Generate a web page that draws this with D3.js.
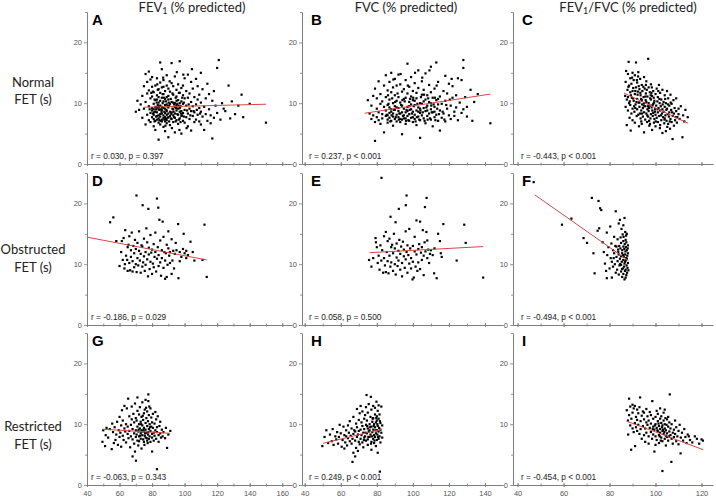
<!DOCTYPE html>
<html>
<head>
<meta charset="utf-8">
<script src="https://cdn.jsdelivr.net/npm/d3@7"></script>
<style>
  body { margin: 0; background: #fff; }
  svg { display: block; font-family: 'Liberation Sans', Arial, sans-serif; }
</style>
</head>
<body>
<svg id="chart" width="716" height="500"></svg>
<script>
// column / row labels
const colTitles = [['FEV', '1', ' (% predicted)'], ['FVC (% predicted)'], ['FEV', '1', '/FVC (% predicted)']];
const rowLabels = ['Normal', 'Obstructed', 'Restricted'];
const rowUnit = 'FET (s)';
const panelLetters = ['A', 'B', 'C', 'D', 'E', 'F', 'G', 'H', 'I'];
const statsText = [
  'r = 0.030, p = 0.397', 'r = 0.237, p < 0.001', 'r = -0.443, p < 0.001',
  'r = -0.186, p = 0.029', 'r = 0.058, p = 0.500', 'r = -0.494, p < 0.001',
  'r = -0.063, p = 0.343', 'r = 0.249, p < 0.001', 'r = -0.454, p < 0.001'
];

// tick labels
const xTicksFev1 = [40, 60, 80, 100, 120, 140, 160];
const xTicksFvc = [40, 60, 80, 100, 120, 140];
const xTicksRatio = [40, 60, 80, 100, 120];
const yTicks = [0, 10, 20];
const yMinorTicks = [5, 15, 25];

// points: [% predicted, FET seconds]
const ptsA = [
  [70,8.6],[71,10.4],[72,8.9],[73,9.8],[74,11.2],[74,7.6],[75,12.8],[75,9.1],[76,14.8],[76,6.5],[76,10.2],[77,8.1],[77,13.5],[77,11.6],[78,7.2],[78,9.5],[78,15.2],[78,12.1],[79,8.4],[79,10.8],[79,6.9],[79,13.9],[80,7.7],[80,9.2],[80,11.1],[80,12.7],[80,8.8],[80,14.3],
  [81,6.2],[81,8.1],[81,9.9],[81,11.8],[81,7.4],[82,10.5],[82,8.6],[82,12.9],[82,7.1],[82,5.6],[83,9.3],[83,11.3],[83,7.9],[83,14.1],[83,8.5],[84,6.8],[84,10.1],[84,12.3],[84,9.0],[84,4.0],[84,7.5],[85,8.2],[85,11.7],[85,13.4],[85,9.6],[85,6.5],[85,7.8],[86,10.9],[86,8.9],[86,12.6],[86,7.3],[86,15.6],[86,9.4],[87,8.0],[87,10.3],[87,6.1],[87,11.5],[87,7.6],[87,13.8],[88,9.1],[88,7.0],[88,12.0],[88,8.4],[88,10.7],[88,5.4],[89,8.7],[89,11.0],[89,7.2],[89,9.8],[89,14.6],[89,6.7],[90,8.3],[90,10.6],[90,12.4],[90,7.7],[90,9.3],[90,4.4],
  [81,9.0],[82,9.4],[83,10.6],[84,8.0],[85,10.4],[86,8.3],[87,9.2],[88,9.7],[89,8.1],[90,11.2],[83,7.3],[86,7.0],[88,7.7],[84,11.0],[87,12.7],[85,16.7],[89,12.9],
  [91,7.9],[91,9.9],[91,11.9],[91,6.4],[92,8.5],[92,10.2],[92,13.3],[92,7.4],[92,16.6],[93,9.0],[93,11.4],[93,6.9],[93,8.0],[93,12.8],[94,7.6],[94,10.0],[94,9.4],[94,14.4],[94,5.2],[95,8.8],[95,11.1],[95,7.2],[95,12.2],[95,9.7],[96,8.1],[96,10.5],[96,6.6],[96,13.1],[97,9.2],[97,7.5],[97,11.7],[97,8.6],[97,16.9],[98,10.3],[98,7.9],[98,12.5],[98,5.0],[99,8.4],[99,9.9],[99,11.3],[99,7.1],[100,8.9],[100,10.8],[100,14.1],[100,6.8],
  [91,8.6],[93,10.1],[95,10.4],[97,10.0],[99,12.9],[94,8.3],[96,9.1],[98,8.7],
  [101,7.7],[101,9.6],[101,12.0],[102,8.3],[102,10.9],[102,14.7],[102,6.2],[103,9.1],[103,7.4],[103,11.6],[104,8.7],[104,10.2],[104,13.5],[104,5.5],[105,7.9],[105,9.5],[105,12.4],[106,8.5],[106,11.0],[106,6.9],[107,9.8],[107,7.3],[107,14.0],[108,8.1],[108,10.6],[108,12.8],[109,9.2],[109,7.0],[109,11.4],[110,8.6],[110,10.1],[110,6.5],[110,15.0],
  [111,7.8],[111,12.3],[112,9.4],[112,5.6],[113,8.2],[113,10.8],[114,13.2],[114,7.1],[115,9.0],[115,11.5],[116,8.0],[116,6.7],[117,10.4],[117,4.2],[118,7.6],[118,12.0],[119,9.6],[120,15.8],[120,8.4],[121,17.1],[122,7.3],[123,10.0],[124,9.1],[125,8.7],
  [127,12.9],[128,7.5],[129,10.3],[131,8.2],[133,9.6],[135,11.4],[136,7.7],[140,9.9],[150,6.8],
  [80.5,8.3],[81.5,10.6],[82.5,7.8],[83.5,9.7],[84.5,8.9],[85.5,7.1],[86.5,10.0],[87.5,8.6],[88.5,7.4],[89.5,9.5],[90.5,7.0],[91.5,10.7],[92.5,9.1],[93.5,7.7],[94.5,10.9],[95.5,8.2],[96.5,7.3],[97.5,9.5],[98.5,8.0],[99.5,10.1],
  [80.5,11.9],[81.5,7.0],[82.5,9.0],[83.5,12.2],[84.5,7.2],[85.5,9.0],[86.5,11.5],[87.5,7.3],[88.5,10.3],[89.5,7.6],[90.5,9.6],[91.5,7.5],[92.5,11.6],[93.5,9.8],[94.5,7.0],[95.5,9.9],[96.5,11.7],[97.5,6.9],[98.5,10.9],[99.5,7.8],
  [81.2,8.5],[82.8,10.1],[84.2,9.4],[85.8,8.6],[87.2,10.9],[88.8,8.9],[90.2,10.1],[91.8,8.2],[93.2,8.6],[94.8,9.2],[96.2,9.6],[97.8,8.3],[101.5,8.8],[102.5,9.8],[103.5,8.0],[105.5,8.7],[107.5,8.9],[109.5,8.3],[78.5,9.0],[79.5,11.7],
  [83.2,13.1],[86.8,14.2],[90.8,13.6],[95.2,15.1],[99.2,14.7],[104.5,15.6],[88.2,6.3],[92.2,5.9],[96.8,5.6],[101.2,5.9]
];
const ptsB = [
  [75,10.5],[76,8.3],[77,7.4],[77,9.6],[78,11.2],[78,8.0],[79,3.8],[79,6.9],[79,12.4],[80,7.7],[80,9.1],[80,10.8],[81,8.5],[81,7.2],[81,13.6],[82,9.9],[82,6.6],[82,11.5],[83,8.2],[83,7.5],[83,10.3],[84,9.4],[84,12.9],[84,5.2],[85,7.9],[85,8.8],[85,11.0],[85,14.6],
  [86,7.3],[86,9.7],[86,12.1],[86,6.8],[87,8.4],[87,10.6],[87,13.5],[87,7.6],[88,9.0],[88,11.8],[88,7.1],[88,8.6],[88,15.0],[89,10.0],[89,7.8],[89,12.6],[89,6.3],[90,8.9],[90,9.5],[90,11.3],[90,7.4],[90,14.0],[91,8.1],[91,10.4],[91,7.0],[91,12.9],[92,9.2],[92,7.7],[92,11.0],[92,8.7],[93,6.9],[93,10.1],[93,13.1],[93,8.3],[94,9.6],[94,7.3],[94,11.9],[94,4.9],[95,8.0],[95,10.7],[95,12.3],[95,7.5],[95,9.1],
  [86,8.0],[87,9.3],[89,8.3],[91,9.3],[93,7.4],[94,8.5],[92,14.7],
  [96,8.5],[96,10.9],[96,6.6],[96,13.8],[97,9.4],[97,7.9],[97,11.6],[97,16.5],[98,8.2],[98,10.2],[98,7.1],[98,12.7],[99,9.0],[99,7.6],[99,11.1],[99,14.3],[100,8.6],[100,10.5],[100,6.9],[100,12.0],[101,9.7],[101,7.4],[101,13.3],[101,8.1],[102,10.8],[102,8.8],[102,6.4],[102,11.7],[103,9.3],[103,7.8],[103,12.5],[103,15.4],[104,8.4],[104,10.0],[104,4.3],[104,7.2],[105,9.9],[105,11.4],[105,8.0],[105,13.6],
  [97,8.7],[99,9.8],[101,10.4],[103,8.6],[96,7.5],[98,9.5],[100,7.7],[104,9.1],
  [106,7.5],[106,9.2],[106,12.2],[107,8.7],[107,10.6],[107,14.9],[107,6.7],[108,9.6],[108,7.9],[108,11.3],[109,8.3],[109,10.2],[109,13.0],[110,7.3],[110,9.0],[110,11.8],[110,16.0],[111,8.5],[111,10.9],[111,6.2],[112,9.4],[112,12.4],[112,7.7],[113,8.1],[113,10.5],[113,16.7],[114,9.8],[114,7.1],[114,13.5],[115,8.8],[115,11.1],[115,5.5],
  [106,10.3],[108,8.8],[110,10.0],[112,8.6],[114,10.7],
  [116,7.6],[116,9.9],[117,12.0],[117,8.3],[118,10.4],[118,7.0],[118,14.5],[119,9.1],[119,11.6],[120,8.0],[120,13.2],[121,9.6],[121,7.4],[122,10.9],[122,12.8],[123,8.6],[123,7.9],[124,11.3],[124,9.3],[125,7.2],[125,14.1],[126,10.1],[127,8.4],[127,13.8],[128,17.1],[128,15.8],[128,9.0],[129,11.0],[130,9.4],[130,7.8],
  [132,12.2],[133,7.1],[134,10.2],[136,11.5],[143,6.7],
  [85.5,8.1],[86.5,9.9],[87.5,7.0],[88.5,10.8],[89.5,8.9],[90.5,7.7],[91.5,11.6],[92.5,8.3],[93.5,9.7],[94.5,7.9],[95.5,10.3],[96.5,8.9],[97.5,7.2],[98.5,10.7],[99.5,8.3],[100.5,9.5],[101.5,7.0],[102.5,9.9],[103.5,7.3],[104.5,11.0],[105.5,8.5],[106.5,7.1],[107.5,9.3],[108.5,10.8],[109.5,7.5],[110.5,8.5],[111.5,9.8],[112.5,7.2],[113.5,9.1],[114.5,8.2],
  [86.2,11.3],[88.2,8.0],[90.2,10.2],[92.2,7.3],[94.2,10.5],[96.2,7.1],[98.2,8.9],[100.2,10.9],[102.2,7.7],[104.2,8.8],[106.2,11.4],[108.2,7.3],[110.2,9.6],[112.2,10.9],[116.5,8.6],[118.5,9.7],[120.5,10.6],[117.5,7.3],
  [89.2,13.9],[93.2,14.8],[97.2,12.9],[101.2,15.0],[105.2,14.2],[109.2,15.4],[113.2,12.9],[121.5,14.0]
];
const ptsC = [
  [86.8,11.2],[87,13.5],[87,9.4],[87.2,15.3],[87.5,10.6],[87.5,6.4],[87.8,12.2],[88,14.8],[88,8.8],[88,11.0],[88.3,16.8],[88.5,10.0],[88.5,12.9],[88.7,7.6],[89,14.1],[89,9.7],[89,11.8],[89.2,5.5],[89.5,13.2],[89.5,8.3],[89.7,10.9],[90,15.0],[90,12.0],[90,9.1],[90,7.2],
  [90.5,13.8],[90.5,10.4],[90.8,8.6],[91,11.5],[91,14.6],[91,6.8],[91.3,9.8],[91.5,12.6],[91.5,16.7],[91.8,7.9],[92,10.7],[92,13.4],[92,9.0],[92.3,11.9],[92.5,8.1],[92.5,15.1],[92.8,6.2],[93,12.3],[93,10.1],[93,9.4],[93.3,14.0],[93.5,7.5],[93.5,11.3],[93.8,8.8],[94,13.0],[94,10.5],[94,6.6],[94.3,12.0],[94.5,9.2],[94.5,7.8],[94.8,11.0],[95,14.3],[95,8.5],[95,10.0],[95,5.2],
  [90.2,10.8],[91.2,12.0],[92.2,11.4],[93.2,8.3],[94.2,9.8],[90.7,9.5],[91.7,10.2],[92.7,12.8],[93.7,10.7],[94.7,12.7],
  [95.3,12.4],[95.5,9.5],[95.5,7.3],[95.8,11.6],[96,8.3],[96,10.2],[96,13.6],[96.3,6.9],[96.5,9.0],[96.5,11.1],[96.8,17.3],[96.8,7.8],[97,12.6],[97,10.0],[97,8.7],[97.3,6.3],[97.5,9.6],[97.5,11.8],[97.8,7.5],[98,10.6],[98,8.2],[98,13.1],[98.3,9.3],[98.5,5.6],[98.5,11.2],[98.8,7.9],[99,9.9],[99,8.4],[99,12.0],[99.3,6.8],[99.5,10.4],[99.5,7.4],[99.8,9.0],[100,11.5],[100,8.1],[100,6.2],
  [95.7,10.5],[96.7,9.5],[97.7,10.8],[98.7,9.7],[99.7,8.6],[96.2,12.2],[97.2,7.1],[98.2,11.7],[99.2,10.9],
  [100.3,9.6],[100.5,7.6],[100.5,12.4],[100.8,10.3],[101,8.5],[101,6.9],[101,11.0],[101.3,9.2],[101.5,7.9],[101.5,13.0],[101.8,10.0],[102,8.8],[102,6.4],[102,11.7],[102.3,9.5],[102.5,7.2],[102.5,10.6],[102.8,8.3],[103,12.2],[103,9.0],[103,5.1],[103.3,7.7],[103.5,10.2],[103.5,8.6],[103.8,6.7],[104,9.4],[104,11.3],[104,7.5],[104.3,8.0],[104.5,10.0],[104.5,5.4],[104.8,7.1],[105,9.1],[105,12.0],
  [105.3,8.2],[105.5,6.6],[105.5,10.8],[105.8,7.8],[106,9.6],[106,8.5],[106.3,5.8],[106.5,7.4],[106.5,11.4],[106.8,8.9],[107,6.9],[107,9.9],[107.4,4.1],[107.5,7.9],[107.8,10.5],[108,8.3],[108,6.3],[108.3,9.2],[108.5,7.2],[109,8.7],[109,10.8],[109.3,6.8],[109.5,7.7],[110,9.1],[110,8.2],[110.5,7.4],[111,9.5],[111.7,4.4],[112,8.0],[112.5,7.0],[113,8.9],[114,7.7],
  [88.2,12.7],[89.3,11.3],[90.3,12.5],[91.2,9.2],[91.9,13.8],[92.6,10.1],[93.4,11.7],[94.1,8.3],[94.9,9.6],[95.6,11.1],[96.4,8.0],[97.1,9.2],[97.9,11.3],[98.6,8.8],[99.4,10.1],[100.1,7.0],[100.9,9.0],[101.7,10.7],[102.4,8.0],[103.1,9.8],[103.9,7.3],[104.7,8.9],[105.4,9.8],[106.2,7.0],[107.2,8.5],[108.8,7.7],[89.8,14.2],[92.4,14.4],[95.8,13.0],[98.4,12.6],[101.2,12.0],[104.2,10.7],[106.6,10.1],[88.8,10.3],[93.8,7.0],[97.6,6.6],[101.9,5.9],[105.1,6.1]
];
const ptsD = [
  [54.2,16.9],[56.2,17.7],[58,13.8],[60,9.7],[61,12.0],[61.4,13.8],[62,10.7],[62.5,14.3],[63,9.3],[63.3,10.0],[63.5,15.6],[64,11.4],[64.7,10.7],[65,12.8],[65,8.9],[65.5,13.2],[66,10.2],[66,14.6],[66.5,9.0],[67,11.2],[67,12.3],[67.5,15.2],[68,8.8],[68,10.5],[68.5,13.0],[69,11.8],[69,9.5],[69.5,14.0],[70,12.5],[70,10.0],[70.4,21.3],[70.5,8.7],[71,11.0],[71,13.5],[71.5,9.8],[72,12.2],[72,15.4],[72.5,10.6],[73,8.6],[73,11.7],[73.5,13.1],[74,9.6],[74,12.9],[74.2,19.7],[74.5,10.3],[75,14.2],[75,11.3],[75.5,8.9],[76,12.0],[76,9.9],[76.5,15.9],[77,10.8],[77,13.6],[77.7,19.1],[77.5,8.0],[78,11.6],[78,12.7],[78.5,9.2],[79,10.4],[79,14.8],[79.5,11.9],[80,8.4],[80,12.4],[80.5,10.1],[81,13.3],[81,9.5],[81.5,11.2],[82,15.2],[82,12.0],[82.5,8.8],[83,20.8],[83,10.9],[83.5,12.8],[83.8,19.3],[84,9.7],[84,11.5],[84.5,17.3],[85,13.9],[85,10.3],[85.5,8.1],[86,12.3],[86,11.0],[86.5,17.0],[87,9.4],[87,14.5],[87.5,12.0],[88,7.6],[88,10.6],[88.5,11.8],[89,13.2],[89,7.9],[89.5,9.9],[90,12.6],[90,15.4],[90.5,11.4],[91,10.2],[91,12.0],[92,8.4],[92,14.1],[92.5,10.6],[93,12.2],[93.5,9.3],[94,11.7],[94.5,13.5],[95,12.3],[96,16.6],[96.2,7.7],[97,10.5],[97,12.0],[98,11.2],[99,12.5],[99.4,15.0],[100,11.8],[101,11.0],[101,12.2],[102,11.5],[103.6,13.7],[105,12.0],[106,10.6],[111,10.7],[112.2,16.5],[113.6,7.9]
];
const ptsE = [
  [75.7,10.7],[77,9.6],[78,11.0],[79.3,14.3],[79.5,13.6],[80,12.8],[80.5,10.2],[81,11.4],[81.5,9.1],[82,13.1],[82.6,24.2],[82.5,10.6],[83,12.3],[83.5,8.6],[84,14.6],[84,11.0],[84.5,9.8],[85,15.3],[85,8.7],[85.5,12.0],[86,10.5],[86,13.8],[86.5,8.5],[87,11.4],[87,14.2],[87.6,17.8],[87.5,9.6],[88,12.8],[88,10.3],[88.5,13.2],[89,8.9],[89,11.8],[89.5,15.0],[90,10.0],[90.4,16.9],[90,12.6],[90.5,8.3],[91,11.1],[91,13.4],[91.5,9.7],[92,12.2],[92.2,19.1],[92,10.6],[92.5,14.0],[93,9.1],[93,11.7],[93.5,12.9],[94,10.2],[94,8.0],[94.5,13.7],[95,11.3],[95,12.4],[95.5,9.4],[96,15.4],[96.1,19.7],[96.5,21.3],[96,10.8],[96.5,12.0],[97,8.6],[97,13.1],[97.5,11.5],[98,10.1],[98,15.8],[98.5,12.6],[99,9.3],[99,11.0],[99.8,7.5],[100,13.0],[100,10.4],[100.5,7.8],[101,12.1],[101,14.5],[101.5,9.6],[102,11.6],[102,17.2],[102.5,8.9],[103,12.5],[103,10.3],[103.5,13.3],[104,9.2],[104,17.0],[104.5,11.9],[105,12.8],[105,10.7],[105.5,15.6],[106,11.4],[106,8.2],[106.7,19.4],[106.5,13.6],[107,12.1],[107.6,20.9],[107.5,15.3],[108,11.0],[108,13.9],[108.5,12.4],[109,10.2],[109.5,11.7],[110,12.3],[111,11.5],[111.8,8.5],[112,12.6],[113.2,7.7],[114,15.0],[115,13.8],[115.5,11.8],[116,11.2],[116.9,16.6],[124.3,10.6],[128.5,16.5],[129.3,13.5],[139,7.8]
];
const ptsF = [
  [47,23.5],[59.3,16.5],[63.4,17.5],[68.7,14.3],[70.2,13.5],[72.3,20.9],[73,11.8],[73.5,8.5],[74.8,15.5],[75.2,20.4],[75.5,15.9],[75.9,19.2],[76.4,18.9],[77,13.6],[77.5,12.0],[78,10.1],[78.5,8.9],[78.8,15.2],[78.8,7.7],[79,11.5],[79.5,12.8],[80,9.3],[80.3,16.2],[80.5,11.0],[80.8,13.4],[81,10.4],[81,7.8],[81.5,12.3],[81.5,9.6],[82,11.8],[82,14.5],[82.3,10.0],[82.7,18.7],[82.7,8.6],[83,12.9],[83,11.2],[83.3,9.1],[83.5,14.1],[83.5,10.5],[83.8,12.0],[84,16.7],[84,8.3],[84,11.6],[84.2,13.0],[84.3,9.8],[84.5,17.3],[84.5,10.9],[84.7,12.6],[84.8,14.4],[85,8.8],[85,11.3],[85,13.5],[85,9.9],[85.2,15.8],[85.3,10.4],[85.5,12.3],[85.5,7.9],[85.5,11.8],[85.7,14.9],[85.8,9.3],[86,12.9],[86,10.7],[86,13.8],[86,8.4],[86,16.4],[86.2,11.2],[86.3,9.6],[86.4,12.5],[86.5,10.1],[86.5,17.6],[86.5,7.5],[86.6,13.3],[86.7,8.9],[86.8,11.6],[86.8,15.3],[86.9,12.1],[87,9.1],[87,10.6],[87,14.0],[87,7.8],[87.1,12.8],[87.2,11.0],[87.3,8.2],[87.3,13.6],[87.4,9.8],[87.5,10.9],[87.5,12.3],[87.5,15.0],[87.6,8.6],[87.7,11.4],[87.8,9.4],[88,10.2],[88,13.1],[88,11.8],[88.2,9.0],[84.6,10.0],[85.9,11.5],[83.7,12.4],[82.5,13.0],[81.8,11.0],[86.1,14.5],[85.4,9.2],[86.7,10.4],[87.9,12.6],[87.2,14.7]
];
const ptsG = [
  [49.5,7.1],[50,9.0],[51.1,6.4],[51.5,8.2],[52,9.4],[53,7.8],[54,9.2],[55.2,5.9],[55.5,10.1],[56,8.7],[56.5,6.9],[57,9.5],[57.5,7.4],[58,8.3],[58.5,10.4],[59,6.6],[59.5,9.0],[60,7.9],[60,11.2],
  [60.5,8.6],[61,9.8],[61,6.3],[61.5,12.3],[62,8.1],[62,10.6],[62.5,7.4],[63,9.3],[63,13.0],[63.5,8.8],[64,7.0],[64,10.0],[64.5,12.6],[65,8.4],[65,9.6],[65.3,14.2],[65.5,7.7],[66,11.3],[66,8.9],[66.5,6.2],[67,9.9],[67,8.0],[67.5,10.8],[67.5,12.9],[68,4.7],[68,7.5],[68,9.2],[68.5,11.7],[69,8.5],[69,6.8],[69,10.3],[69.5,5.5],[69.5,13.4],[70,7.9],[70,9.0],[70.1,4.0],[70,11.0],[70.5,8.3],
  [70.5,10.6],[71,14.4],[71,7.3],[71,9.6],[71,12.2],[71.5,8.8],[71.5,6.5],[72,10.0],[72,8.0],[72,11.6],[72,7.2],[72.5,9.3],[72.5,12.8],[73,8.5],[73,10.4],[73,7.6],[73.5,9.0],[73.5,11.2],[73.5,6.0],[74,8.2],[74,9.8],[74,13.6],[74.5,7.5],[74.5,10.7],[75,8.8],[75,11.8],[75,7.1],[75,9.4],[75.5,12.4],[75.5,8.1],[76,10.2],[76,7.8],[76,9.1],[76,14.0],[76.5,8.6],[76.5,11.0],[77,9.7],[77,7.3],[77,12.1],[77.5,8.3],[77.5,10.5],[77.7,14.9],[77.7,13.8],[78,9.2],[78,7.6],[78,11.5],[78.5,8.0],[78.5,10.0],[79,8.9],[79,12.6],[79,7.1],[79.5,9.6],[79.5,11.1],[80,8.4],[80,5.5],[80,10.3],[80,7.8],
  [71.7,9.1],[72.7,8.1],[73.7,8.8],[74.7,9.1],[75.7,8.5],[76.7,7.7],[77.7,8.7],[78.7,9.5],[73.3,10.0],[74.3,11.4],[76.3,12.7],[75.3,6.6],[77.3,6.9],[78.3,12.9],
  [80.5,9.4],[80.5,11.7],[81,8.6],[81,7.3],[81.5,10.1],[81.5,8.1],[82,9.0],[82,12.0],[82.5,7.6],[82.5,10.8],[83,8.7],[83,2.6],[83,9.5],[83.5,11.3],[84,8.2],[84,7.1],[84.5,9.7],[85,8.5],[85,10.4],[85.5,7.8],[86,9.1],[86.5,8.0],[87,8.7],[88,7.7],[88.5,9.4],[89.2,6.1],[90,8.3],[91.2,8.9]
];
const ptsH = [
  [49.8,6.4],[51,7.9],[52,9.0],[53,6.9],[54,8.3],[55,7.2],[55.5,9.2],[56,6.6],[57,8.0],[57.5,7.5],[58,8.7],[58.5,6.8],[59,7.9],[59.4,9.9],[60,8.5],[60.5,6.3],[61,7.4],[61.5,9.6],[62,8.2],[62,6.0],
  [62.5,7.0],[63,9.0],[63,8.0],[63.5,6.5],[64,7.7],[64,9.8],[64.5,8.6],[65,7.2],[65,10.5],[65.5,8.1],[66,6.8],[66,9.3],[66.5,3.8],[66.5,7.6],[67,8.4],[67,11.2],[67,5.3],[67.5,9.0],[68,7.3],[68,4.7],[68,8.8],[68.5,10.1],[68.5,6.1],[69,7.9],[69,12.5],[69,9.5],[69.5,8.3],[69.5,5.6],[70,7.1],[70,10.7],[70,8.9],[70.5,11.8],[70.5,6.7],[71,9.1],[71,7.6],[71,13.0],[71.5,8.2],[71.5,10.3],[72,7.0],[72,9.7],[72,12.1],
  [72.5,8.6],[72.5,6.2],[73,10.9],[73,7.8],[73,9.2],[73.5,11.5],[73.5,8.0],[74,9.9],[74,7.3],[74,12.8],[74.3,14.8],[74.5,8.5],[74.5,10.6],[75,7.5],[75,9.3],[75,11.9],[75,6.6],[75.5,8.8],[75.5,13.3],[76,10.0],[76,7.9],[76,9.0],[76.7,14.5],[76.5,11.2],[76.5,8.3],[77,7.1],[77,9.6],[77,12.4],[77,5.8],[77.5,8.7],[77.5,10.4],[78,7.6],[78,9.1],[78,11.0],[78,13.0],[78.5,8.2],[78.5,10.0],[78.5,6.9],[79,9.5],[79,7.9],[79,11.6],[79,12.7],[79.5,8.5],[79.5,10.3],[79.8,13.7],[79.5,6.4],[80,9.0],[80,7.4],[80,11.3],[80,10.6],[80.3,8.3],[80.5,9.7],[80.5,12.2],[80.5,5.3],[81,8.8],[81,10.9],[81,7.6],[81,13.1],[81.3,9.4],[81.5,8.0],[81.5,11.6],[81.7,2.2],[82,9.1],[82,10.2],[82,7.0],[82.5,8.6],[82.5,12.9],[83,9.8],[83,7.8],
  [76.3,9.5],[77.3,8.0],[78.3,9.7],[79.3,9.0],[80.3,10.0],[75.3,7.9],[74.7,9.7],[73.7,8.6],[77.7,10.9],[78.7,7.3],[79.7,11.0],[80.7,7.9],[81.7,10.5],[76.8,6.8],[72.8,7.4]
];
const ptsI = [
  [87.5,12.3],[88,10.6],[88.1,8.3],[88.5,14.2],[88.5,11.5],[89,9.8],[89,12.9],[89.4,5.8],[89.5,10.9],[90,13.2],[90,9.3],[90,11.9],[90.5,8.7],[90.5,12.6],[91,10.2],[91,13.0],[91.1,6.4],[91.5,9.5],[91.5,11.2],[92,12.4],[92,8.9],[92,10.7],
  [92.5,11.8],[92.5,9.9],[93,12.8],[93,8.4],[93.3,14.4],[93.5,10.5],[93.5,9.2],[94,11.4],[94,7.6],[94.5,12.1],[94.5,9.7],[95,10.8],[95,8.2],[95,11.9],[95.5,9.3],[95.5,7.1],[96,10.3],[96,12.5],[96,8.6],[96.5,9.9],[96.5,11.3],[97,8.0],[97,10.6],[97,6.8],[97.5,9.4],[97.5,12.0],[98,8.7],[98,10.1],[98,11.5],[98.6,13.8],[98.5,7.6],[99,9.6],[99,8.3],[99,10.9],[99.5,5.5],[99.5,9.1],[100,11.2],[100,8.0],[100,10.0],[100,6.6],
  [100.5,9.4],[100.5,12.2],[100.5,7.4],[101,8.8],[101,10.5],[101,11.7],[101.5,8.2],[101.5,9.7],[101.5,6.9],[102,10.9],[102,8.6],[102,9.2],[102,12.6],[102.5,7.8],[102.5,10.2],[102.5,11.3],[103,8.9],[103,9.8],[103,2.3],[103,7.2],[103.5,10.6],[103.5,8.4],[103.5,11.9],[104,9.3],[104,7.6],[104,10.0],[104,12.4],[104.5,8.1],[104.5,9.0],[104.5,6.5],[105,10.8],[105,8.5],[105,7.9],[105.5,9.6],[105.5,11.2],[105.5,7.3],[106,8.8],[106,10.3],[106.2,14.9],[106.5,8.2],[106.5,9.3],[106.9,3.8],[107,7.6],[107,10.0],[107.5,8.6],[107.5,6.8],[108,9.1],[108,7.9],
  [100.8,9.0],[101.8,8.0],[102.8,9.5],[103.8,8.7],[104.8,9.9],[105.8,8.0],[101.3,10.1],[102.3,7.3],[103.3,9.1],[104.3,11.0],[99.7,9.8],[98.8,9.2],
  [108.5,10.6],[108.5,8.4],[109,7.2],[109,9.5],[109.5,8.0],[110,8.9],[110,6.7],[110.5,9.9],[110.9,5.2],[111,7.8],[111.5,8.6],[112,7.3],[112.5,9.2],[113,7.9],[113.5,6.9],[114,8.3],[114.5,8.0],[115,7.4],[116,7.0],[117.1,8.0],[118,7.6],[119,6.8],[120.6,7.3],[120,7.5]
];

// fitted regression lines, endpoints in data units
const fitA = [[75.2, 9.34], [150, 9.83]];
const fitB = [[73.3, 8.35], [143, 11.5]];
const fitC = [[86.3, 11.65], [114.2, 6.7]];
const fitD = [[40, 14.45], [113.6, 10.7]];
const fitE = [[76.1, 11.9], [139, 12.9]];
const fitF = [[47.5, 21.4], [88.2, 10.6]];
const fitG = [[49.9, 9.17], [91, 8.5]];
const fitH = [[50.2, 6.86], [82.6, 9.17]];
const fitI = [[87.4, 10.5], [120.8, 5.8]];

const points = [ptsA, ptsB, ptsC, ptsD, ptsE, ptsF, ptsG, ptsH, ptsI];
const fits = [fitA, fitB, fitC, fitD, fitE, fitF, fitG, fitH, fitI];
const xTickSets = [xTicksFev1, xTicksFvc, xTicksRatio];

// layout
const cols = [
  { x0: 87, x1: 292, dom: [40, 166], letterDx: 5, statDx: 4, titleX: 192 },
  { x0: 302, x1: 503, dom: [38.5, 150], letterDx: 9, statDx: 7, titleX: 406 },
  { x0: 513, x1: 713, dom: [38, 125], letterDx: 9, statDx: 8, titleX: 628 }
];
const rows = [
  { top: 12, bottom: 164, lab1: 87, lab2: 104 },
  { top: 173, bottom: 325, lab1: 254, lab2: 272 },
  { top: 333, bottom: 485, lab1: 431, lab2: 449 }
];
const axisColor = '#7a7a7a';
const labelFont = "Lato, 'Open Sans', sans-serif";

const svg = d3.select('#chart');

// column titles
colTitles.forEach((parts, i) => {
  const t = svg.append('text')
    .attr('x', cols[i].titleX)
    .attr('y', 12)
    .attr('text-anchor', 'middle')
    .style('font-family', labelFont)
    .style('font-size', '13px')
    .style('fill', '#222');
  parts.forEach((p, j) => {
    const ts = t.append('tspan').text(p);
    if (parts.length > 1 && j === 1) ts.attr('baseline-shift', '-25%').style('font-size', '9px');
  });
});

// row labels
rowLabels.forEach((lab, i) => {
  svg.append('text')
    .attr('x', 33).attr('y', rows[i].lab1)
    .attr('text-anchor', 'middle')
    .style('font-family', labelFont).style('font-size', '13px').style('fill', '#222')
    .text(lab);
  svg.append('text')
    .attr('x', 33).attr('y', rows[i].lab2)
    .attr('text-anchor', 'middle')
    .style('font-family', labelFont).style('font-size', '13px').style('fill', '#222')
    .text(rowUnit);
});

points.forEach((pts, i) => {
  const ci = i % 3;
  const ri = Math.floor(i / 3);
  const c = cols[ci];
  const r = rows[ri];

  const x = d3.scaleLinear().domain(c.dom).range([c.x0, c.x1]);
  const y = d3.scaleLinear().domain([0, 25]).range([r.bottom, r.top]);

  const g = svg.append('g').attr('class', 'panel');

  // x axis, minor then major ticks
  const minorX = d3.range(40, c.dom[1], 10);
  g.append('g')
    .attr('transform', `translate(0,${r.bottom})`)
    .call(d3.axisBottom(x).tickValues(minorX).tickSize(2).tickSizeOuter(0).tickFormat(''))
    .call((a) => a.selectAll('.tick line').attr('y1', -1.5).attr('y2', 1.5));
  const xAxis = g.append('g')
    .attr('transform', `translate(0,${r.bottom})`)
    .call(d3.axisBottom(x).tickValues(xTickSets[ci]).tickSize(3).tickPadding(3).tickSizeOuter(0)
      .tickFormat(ri === 2 ? d3.format('d') : ''));
  xAxis.selectAll('.tick line').attr('y1', -2).attr('y2', 2);

  // y axis
  g.append('g')
    .attr('transform', `translate(${c.x0},0)`)
    .call(d3.axisLeft(y).tickValues(yMinorTicks).tickSize(2).tickSizeOuter(0).tickFormat(''));
  g.append('g')
    .attr('transform', `translate(${c.x0},0)`)
    .call(d3.axisLeft(y).tickValues(yTicks).tickSize(3).tickPadding(2).tickSizeOuter(0).tickFormat(d3.format('d')));

  g.selectAll('.domain, .tick line').attr('stroke', axisColor).attr('stroke-width', 0.8);
  g.selectAll('.tick text')
    .style('font-family', "'Liberation Sans', Arial, sans-serif")
    .style('font-size', '7.5px')
    .attr('fill', '#555');

  // points
  g.selectAll('rect.pt')
    .data(pts)
    .join('rect')
    .attr('class', 'pt')
    .attr('x', (d) => x(d[0]) - 1.1)
    .attr('y', (d) => y(d[1]) - 1.1)
    .attr('width', 2.2)
    .attr('height', 2.2)
    .attr('fill', '#000');

  // regression line
  const f = fits[i];
  g.append('line')
    .attr('x1', x(f[0][0])).attr('y1', y(f[0][1]))
    .attr('x2', x(f[1][0])).attr('y2', y(f[1][1]))
    .attr('stroke', '#d24848')
    .attr('stroke-width', 1);

  // panel letter
  g.append('text')
    .attr('x', c.x0 + c.letterDx)
    .attr('y', r.top + 13)
    .style('font-size', '15px')
    .style('font-weight', 'bold')
    .style('fill', '#000')
    .text(panelLetters[i]);

  // stats
  g.append('text')
    .attr('x', c.x0 + c.statDx)
    .attr('y', r.bottom - 5)
    .style('font-size', '8.3px')
    .style('fill', '#222')
    .text(statsText[i]);
});
</script>
</body>
</html>
